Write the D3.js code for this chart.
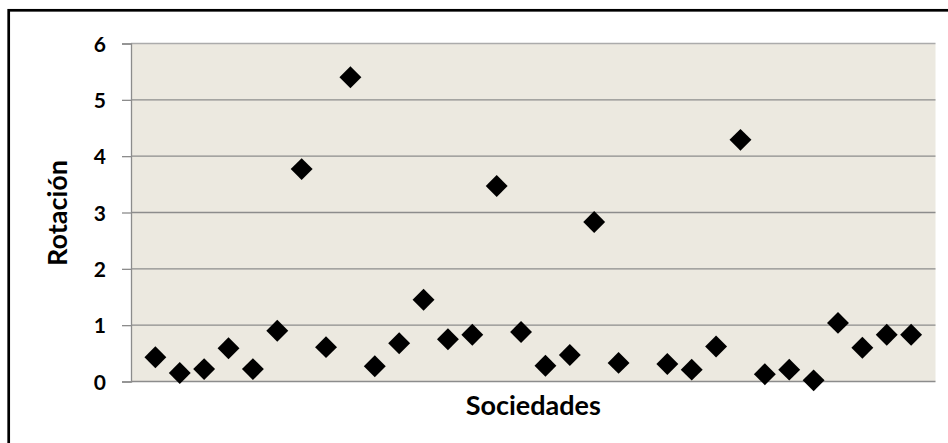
<!DOCTYPE html>
<html>
<head>
<meta charset="utf-8">
<script src="https://cdn.jsdelivr.net/npm/d3@7"></script>
<style>
  html, body { margin: 0; padding: 0; background: #fff; }
  text { font-family: Lato, "Open Sans", sans-serif; font-weight: bold; fill: #000; }
</style>
</head>
<body>
<div id="chart"></div>
<script>
// Data (sociedad 21 has no visible point)
var sociedades = [1, 2, 3, 4, 5, 6, 7, 8, 9, 10, 11, 12, 13, 14, 15, 16,
  17, 18, 19, 20, 21, 22, 23, 24, 25, 26, 27, 28, 29, 30, 31, 32];
var rotacion = [0.43, 0.15, 0.22, 0.59, 0.22, 0.90, 3.77, 0.61, 5.40, 0.27, 0.68, 1.45,
  0.75, 0.83, 3.47, 0.88, 0.28, 0.47, 2.83, 0.33, null, 0.31, 0.21, 0.62,
  4.29, 0.13, 0.21, 0.02, 1.04, 0.60, 0.83, 0.83];
var yTicks = [0, 1, 2, 3, 4, 5, 6];
var xTitle = "Sociedades";
var yTitle = "Rotación";

document.addEventListener('DOMContentLoaded', function(e) {
  var W = 948, H = 443;
  var margin = { top: 43.5, right: 12.5, bottom: 61.5, left: 131 },
    width = W - margin.left - margin.right,
    height = H - margin.top - margin.bottom;

  var svg = d3.select("#chart")
    .append("svg")
    .attr("width", W)
    .attr("height", H);

  // Outer chart border (runs off the right and bottom edges)
  svg.append("rect")
    .attr("x", 8.7)
    .attr("y", 10.3)
    .attr("width", W + 20)
    .attr("height", H + 20)
    .attr("fill", "none")
    .attr("stroke", "#000")
    .attr("stroke-width", 2.7);

  var g = svg.append("g")
    .attr("transform", "translate(" + margin.left + "," + margin.top + ")");

  // Scales
  var x = d3.scaleLinear()
    .domain([0, 33])
    .range([0, width]);
  var y = d3.scaleLinear()
    .domain([0, 6])
    .range([height, 0]);

  // Plot area background
  g.append("rect")
    .attr("width", width)
    .attr("height", height)
    .attr("fill", "#ECE9E0");

  // Gridlines
  g.append("g")
    .selectAll("line")
    .data(yTicks)
    .enter().append("line")
    .attr("x1", 0)
    .attr("x2", width)
    .attr("y1", function(d) { return y(d); })
    .attr("y2", function(d) { return y(d); })
    .attr("stroke", function(d) { return d == 6 ? "#ABABAB" : "#8C8C8C"; })
    .attr("stroke-width", 1.3);

  // Y axis
  var yAxis = g.append("g")
    .call(d3.axisLeft(y).tickValues(yTicks).tickSize(9).tickPadding(16)
      .tickFormat(d3.format("d")));
  yAxis.select(".domain").attr("stroke", "#8C8C8C").attr("stroke-width", 1.3);
  yAxis.selectAll(".tick line").attr("stroke", "#8C8C8C").attr("stroke-width", 1.3);
  yAxis.selectAll(".tick text")
    .attr("font-family", "Lato, sans-serif")
    .attr("font-weight", "bold")
    .attr("font-size", 21)
    .attr("dy", "0.36em");

  // Points
  var diamond = d3.symbol().type(d3.symbolSquare).size(240);
  var pts = sociedades.map(function(s, i) {
    return { s: s, v: rotacion[i] };
  }).filter(function(d) { return d.v != null; });

  g.append("g")
    .selectAll("path")
    .data(pts)
    .enter().append("path")
    .attr("d", diamond)
    .attr("transform", function(d) {
      return "translate(" + x(d.s) + "," + y(d.v) + ") rotate(45)";
    })
    .attr("fill", "#000");

  // Axis titles
  svg.append("text")
    .attr("x", margin.left + width / 2)
    .attr("y", 415)
    .attr("text-anchor", "middle")
    .attr("font-size", 27)
    .text(xTitle);

  svg.append("text")
    .attr("transform", "translate(66.5," + 213 + ") rotate(-90)")
    .attr("text-anchor", "middle")
    .attr("font-size", 27)
    .text(yTitle);
});
</script>
</body>
</html>
